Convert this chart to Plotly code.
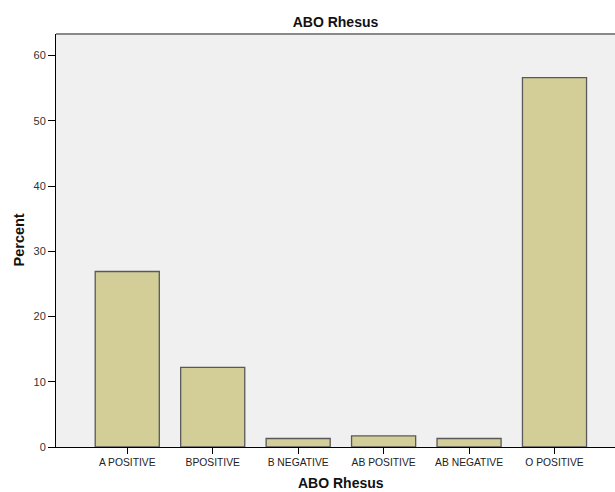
import plotly.graph_objects as go

categories = ["A POSITIVE", "BPOSITIVE", "B NEGATIVE", "AB POSITIVE", "AB NEGATIVE", "O POSITIVE"]
percent = [26.9, 12.2, 1.3, 1.7, 1.3, 56.6]
y_ticks = [0, 10, 20, 30, 40, 50, 60]

fig = go.Figure()
fig.add_trace(go.Bar(
    x=list(range(len(categories))), y=percent, width=0.75,
    marker=dict(color="#D3CE98", line=dict(color="#595959", width=1.3)),
))

fig.update_layout(
    width=615, height=492,
    margin=dict(l=56, r=0, t=34, b=45, autoexpand=False),
    paper_bgcolor="white", plot_bgcolor="#F0F0F0",
    showlegend=False,
    font=dict(family="Liberation Sans, Arial, sans-serif", color="#222222"),
    title=dict(text="<b>ABO Rhesus</b>", x=(56 + 615) / 2 / 615, xanchor="center",
               y=1 - 22 / 492, yref="container", yanchor="middle",
               font=dict(size=14, color="#111111")),
)
fig.update_xaxes(
    range=[-0.834, 5.708], tickmode="array", tickvals=list(range(len(categories))),
    ticktext=categories, ticks="outside", ticklen=6, tickcolor="black",
    showline=True, linecolor="black", linewidth=1, showgrid=False, zeroline=False,
    tickfont=dict(size=10.3, color="#222222"), automargin=False,
)
fig.update_yaxes(
    range=[0, 63.3], tickmode="array", tickvals=y_ticks, ticks="outside", ticklen=7,
    tickcolor="black", showline=True, linecolor="black", linewidth=1,
    showgrid=False, zeroline=False, tickfont=dict(size=11, color="#333333"),
    automargin=False,
)
# y-axis title
fig.add_annotation(text="<b>Percent</b>", xref="paper", x=(18 - 56) / 559, xanchor="center",
                   yref="paper", y=0.5, yanchor="middle", textangle=-90, showarrow=False,
                   font=dict(size=14.5, color="#111111"))
# x-axis title centered on the categories
fig.add_annotation(text="<b>ABO Rhesus</b>", x=2.5, xref="x", y=0, yref="paper",
                   yshift=-36, yanchor="middle", showarrow=False,
                   font=dict(size=14, color="#111111"))
# top border of plot area
fig.add_shape(type="line", xref="paper", yref="paper", x0=0, x1=1, y0=1, y1=1,
              line=dict(color="#8a8a8a", width=2))
fig.write_html("out.html", config={"displayModeBar": False},
               post_script="document.body.style.margin='0';")
